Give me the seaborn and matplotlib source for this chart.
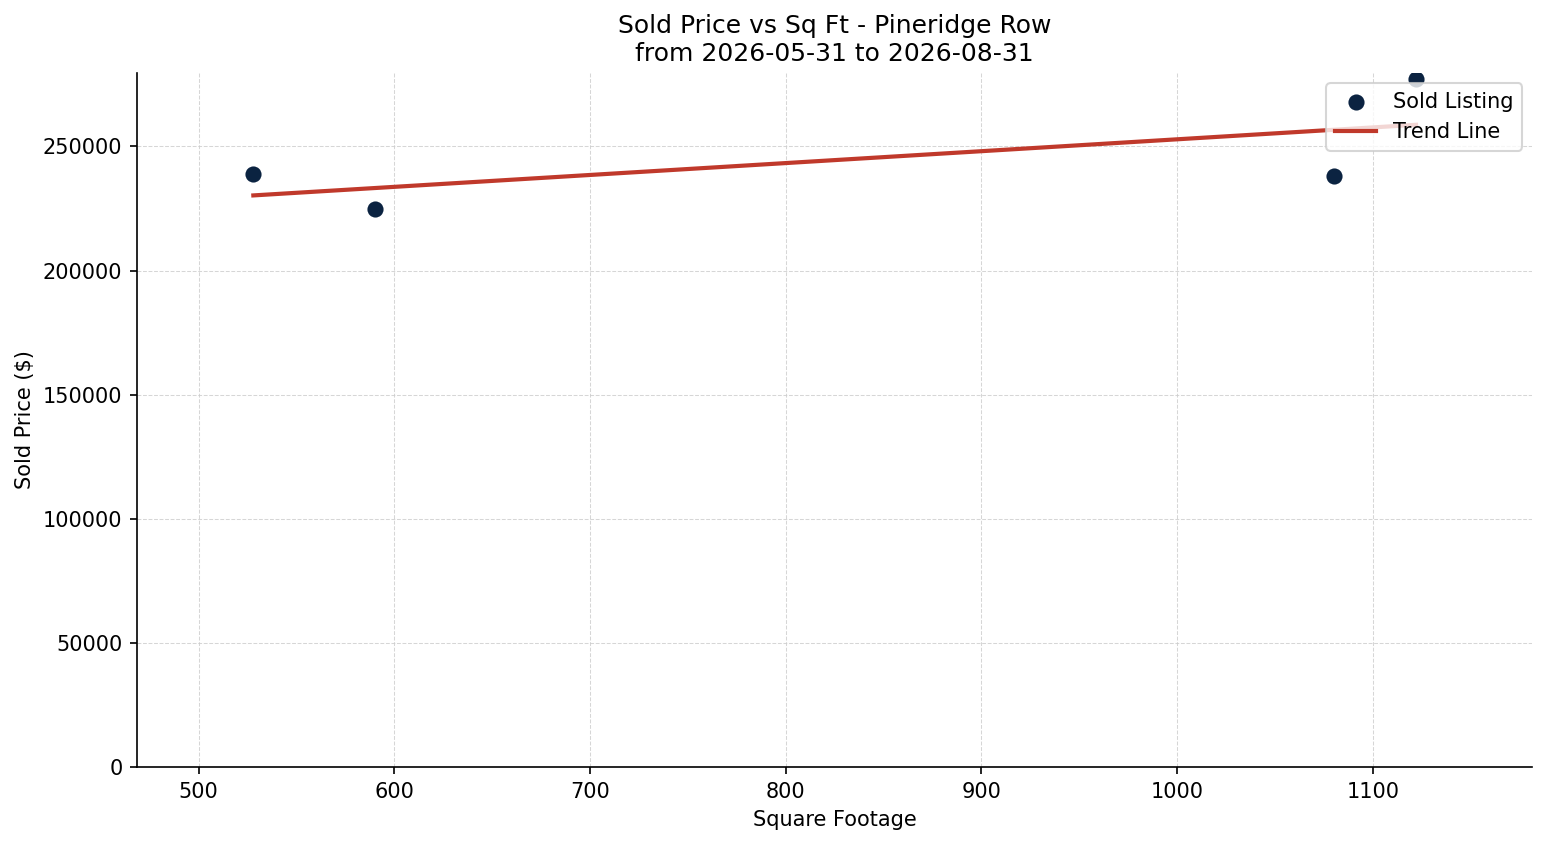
import numpy as np
import pandas as pd
import seaborn as sns
import matplotlib.pyplot as plt

# values
sqft = [528, 590, 1080, 1122]
sold_price = [239000, 225000, 238000, 277000]
title_lines = ['Sold Price vs Sq Ft - Pineridge Row', 'from 2026-05-31 to 2026-08-31']

df = pd.DataFrame({'sqft': sqft, 'price': sold_price})

plt.rcParams['font.family'] = ['DejaVu Sans']

fig, ax = plt.subplots(figsize=(1547 / 150, 845 / 150), dpi=150)
fig.subplots_adjust(left=0.0886, right=0.9905, top=0.9136, bottom=0.0923)

sns.scatterplot(data=df, x='sqft', y='price', color='#0b2341', s=60,
                linewidth=0, label='Sold Listing', ax=ax, zorder=3)

# least squares trend line over the data range
slope, intercept = np.polyfit(df['sqft'], df['price'], 1)
xs = np.array([df['sqft'].min(), df['sqft'].max()])
sns.lineplot(x=xs, y=slope * xs + intercept, color='#c0392b', linewidth=2,
             label='Trend Line', ax=ax, zorder=2)

pad = 0.1 * (df['sqft'].max() - df['sqft'].min())
ax.set_xlim(df['sqft'].min() - pad, df['sqft'].max() + pad)
ax.set_ylim(bottom=0)

ax.set_title('\n'.join(title_lines), fontsize=12)
ax.set_xlabel('Square Footage')
ax.set_ylabel('Sold Price (\\$)')
ax.grid(True, linestyle='--', linewidth=0.5, color='#cccccc', alpha=0.8)
ax.set_axisbelow(True)
sns.despine(ax=ax)
ax.legend(loc='upper right')

fig.savefig('out.png', dpi=150)
